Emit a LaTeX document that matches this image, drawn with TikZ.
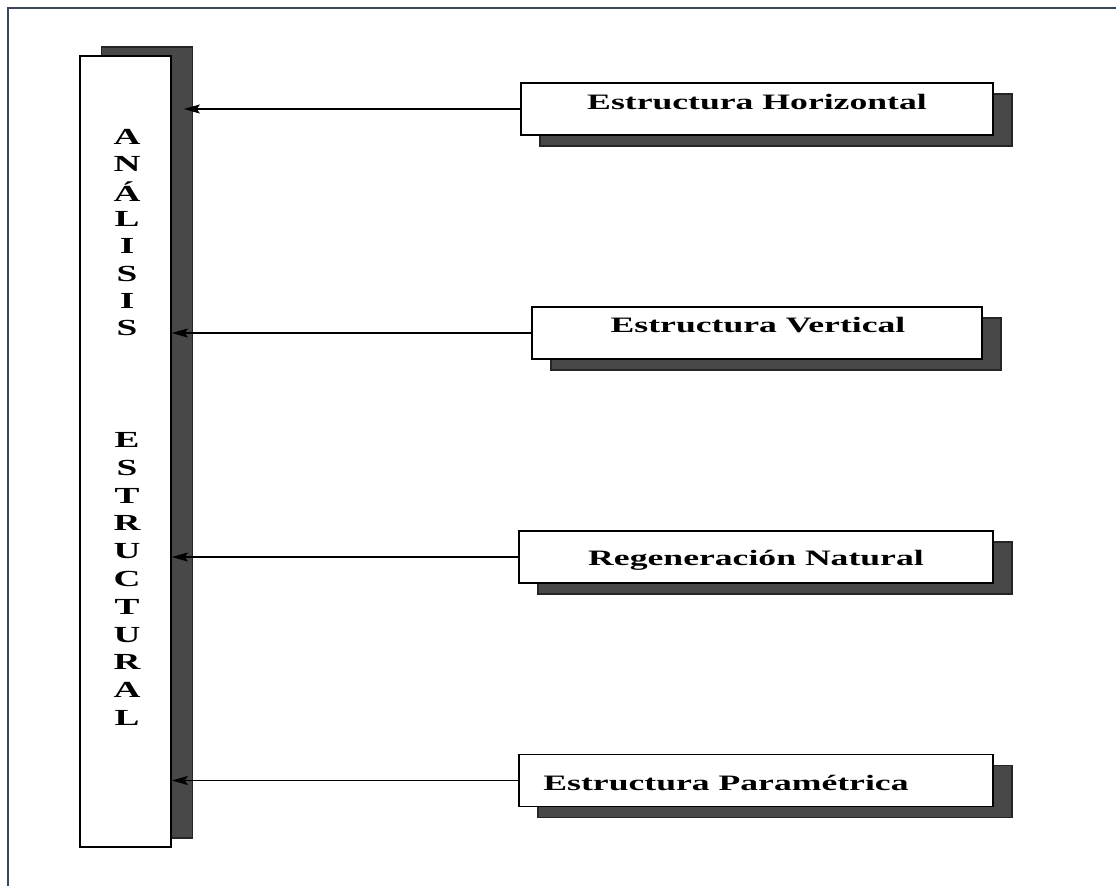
\documentclass[tikz,border=0pt]{standalone}
\usepackage{fontspec}
\usepackage{graphicx}
\setmainfont{Liberation Serif}
\usetikzlibrary{arrows.meta,shadows}
\definecolor{framecol}{RGB}{58,71,90}
\definecolor{shadowcol}{RGB}{72,72,72}
\tikzset{
  sidebox/.style={draw=black, line width=1.6pt, fill=white, minimum height=52pt,
    general shadow={shadow xshift=19pt, shadow yshift=-11pt, fill=shadowcol, draw=black!85, line width=1.4pt}},
  mainbox/.style={draw=black, line width=1.6pt, fill=white, minimum width=91pt, minimum height=791pt,
    general shadow={shadow xshift=21.5pt, shadow yshift=9pt, fill=shadowcol, draw=black!85, line width=1.4pt}},
  boxtext/.style={font=\fontsize{22}{24}\selectfont\bfseries, inner sep=0pt},
  letter/.style={font=\fontsize{23}{24}\selectfont\bfseries, inner sep=0pt},
  arr/.style={line width=1.3pt, -{Stealth[length=16pt,width=9pt,inset=3pt]}},
}
\newcommand{\wide}[1]{\scalebox{1.62}[1]{#1}}
\begin{document}
\begin{tikzpicture}[x=1pt,y=-1pt]
\useasboundingbox (0,0) rectangle (1116,886);
\fill[white] (0,0) rectangle (1116,886);
\draw[framecol, line width=2pt] (8,886) -- (8,8) -- (1116,8);

\node[mainbox] (main) at (125.5,451.5) {};

\node[sidebox, minimum width=472pt] (b1) at (757,109) {};
\node[sidebox, minimum width=450pt] (b2) at (757,333) {};
\node[sidebox, minimum width=474pt] (b3) at (756,557) {};
\node[sidebox, minimum width=474pt] (b4) at (756,780.5) {};

\node[boxtext] (t1) at (757,102) {\wide{Estructura Horizontal}};
\node[boxtext] (t2) at (758,325) {\wide{Estructura Vertical}};
\node[boxtext] (t3) at (756,560) {\wide{Regeneración Natural}};
\node[boxtext] (t4) at (726,783) {\wide{Estructura Paramétrica}};

\foreach \l [count=\i] in {A,N,Á,L,I,S,I,S}
  \node[letter] (wa\i) at (127,{137+(\i-1)*27.3}) {\wide{\l}};
\foreach \l [count=\i] in {E,S,T,R,U,C,T,U,R,A,L}
  \node[letter] (wb\i) at (127,{440+(\i-1)*27.8}) {\wide{\l}};

\draw[arr] (b1.west) -- ([xshift=12pt]main.east |- b1.west);
\draw[arr] (b2.west) -- (main.east |- b2.west);
\draw[arr] (b3.west) -- (main.east |- b3.west);
\draw[arr] (b4.west) -- (main.east |- b4.west);
\end{tikzpicture}
\end{document}
